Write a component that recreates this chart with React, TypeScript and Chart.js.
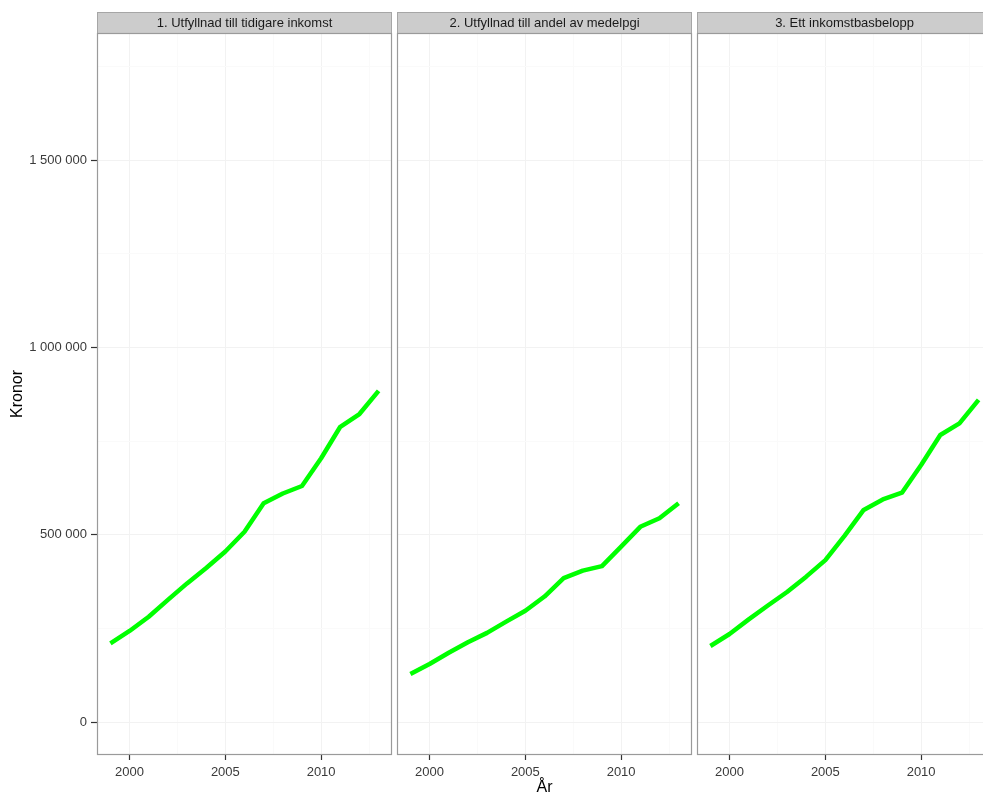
import React, { useEffect, useRef } from "react";
import { Chart, registerables } from "chart.js";

Chart.register(...registerables);

const years = [1999, 2000, 2001, 2002, 2003, 2004, 2005, 2006, 2007, 2008, 2009, 2010, 2011, 2012, 2013];

const panelTitles = [
  "1. Utfyllnad till tidigare inkomst",
  "2. Utfyllnad till andel av medelpgi",
  "3. Ett inkomstbasbelopp",
];

const seriesTidigare = [210000, 243000, 281000, 326000, 370000, 411000, 455000, 508000, 584000, 610000, 630000, 704000, 788000, 822000, 884000];
const seriesMedelpgi = [128000, 155000, 185000, 213000, 238000, 268000, 297000, 335000, 384000, 404000, 416000, 468000, 521000, 544000, 584000];
const seriesBasbelopp = [203000, 235000, 274000, 311000, 347000, 388000, 432000, 497000, 566000, 594000, 612000, 686000, 766000, 797000, 860000];

const yTicks = [0, 250000, 500000, 750000, 1000000, 1250000, 1500000, 1750000];
const xTicks = [2000, 2002.5, 2005, 2007.5, 2010, 2012.5];

const allSeries = [seriesTidigare, seriesMedelpgi, seriesBasbelopp];

const FONT = "'Liberation Sans', Arial, sans-serif";

function fmt(v: number): string {
  return String(Math.round(v)).replace(/\B(?=(\d{3})+(?!\d))/g, " ");
}

const panelPlugin = {
  id: "panelDeco",
  beforeDraw(chart: any) {
    const { ctx, chartArea } = chart;
    ctx.save();
    ctx.fillStyle = "#ffffff";
    ctx.fillRect(chartArea.left, chartArea.top, chartArea.right - chartArea.left, chartArea.bottom - chartArea.top);
    ctx.restore();
  },
  afterDraw(chart: any, _args: any, opts: any) {
    const { ctx, chartArea } = chart;
    const l = chartArea.left, r = chartArea.right, t = chartArea.top, b = chartArea.bottom;
    ctx.save();
    const sTop = t - 21;
    ctx.fillStyle = "#cccccc";
    ctx.fillRect(l, sTop, r - l, t - sTop);
    ctx.strokeStyle = "#a6a6a6";
    ctx.lineWidth = 1;
    ctx.strokeRect(l + 0.5, sTop + 0.5, r - l - 1, t - sTop);
    ctx.fillStyle = "#1a1a1a";
    ctx.font = `13px ${FONT}`;
    ctx.textAlign = "center";
    ctx.textBaseline = "middle";
    ctx.fillText(opts.title, (l + r) / 2, (sTop + t) / 2 + 1);
    ctx.strokeStyle = "#9a9a9a";
    ctx.lineWidth = 1.2;
    ctx.strokeRect(l + 0.5, t + 0.5, r - l - 1, b - t - 1);
    ctx.restore();
  },
};

function makeConfig(idx: number): any {
  const first = idx === 0;
  const middle = idx === 1;
  return {
    type: "line",
    data: {
      labels: years,
      datasets: [
        {
          data: years.map((y, i) => ({ x: y, y: allSeries[idx][i] })),
          borderColor: "#00ff00",
          backgroundColor: "#00ff00",
          borderWidth: 4.5,
          borderJoinStyle: "round",
          pointRadius: 0,
          tension: 0,
          fill: false,
        },
      ],
    },
    plugins: [panelPlugin],
    options: {
      animation: false,
      responsive: false,
      maintainAspectRatio: false,
      events: [],
      layout: { padding: { top: 33, left: first ? 0 : 2, right: 3, bottom: 0 } },
      plugins: {
        legend: { display: false },
        tooltip: { enabled: false },
        title: { display: false },
        panelDeco: { title: panelTitles[idx] },
      },
      scales: {
        x: {
          type: "linear",
          min: 1998.3,
          max: 2013.7,
          afterBuildTicks: (scale: any) => {
            scale.ticks = xTicks.map((v) => ({ value: v }));
          },
          afterFit: (scale: any) => {
            scale.height = 41;
          },
          border: { display: false },
          grid: {
            color: (ctx: any) => (ctx.tick && ctx.tick.value % 5 === 0 ? "#f2f2f2" : "#fafafa"),
            tickColor: (ctx: any) => (ctx.tick && ctx.tick.value % 5 === 0 ? "#333333" : "rgba(0,0,0,0)"),
            tickLength: 5,
            tickWidth: 1.2,
            lineWidth: 1,
          },
          ticks: {
            autoSkip: false,
            maxRotation: 0,
            padding: 5,
            color: "#3a3a3a",
            font: { family: FONT, size: 13 },
            callback: (v: any) => (Number(v) % 5 === 0 ? String(v) : ""),
          },
          title: {
            display: middle,
            text: "År",
            color: "#000000",
            font: { family: FONT, size: 16, lineHeight: 1.0 },
            padding: { top: 0, bottom: 0 },
          },
        },
        y: {
          type: "linear",
          min: -88000,
          max: 1839000,
          afterBuildTicks: (scale: any) => {
            scale.ticks = yTicks.map((v) => ({ value: v }));
          },
          afterFit: (scale: any) => {
            scale.width = first ? 97 : 0;
          },
          border: { display: false },
          grid: {
            color: (ctx: any) => (ctx.tick && ctx.tick.value % 500000 === 0 ? "#f2f2f2" : "#fafafa"),
            tickColor: (ctx: any) =>
              first && ctx.tick && ctx.tick.value % 500000 === 0 ? "#333333" : "rgba(0,0,0,0)",
            tickLength: first ? 6 : 0,
            drawTicks: first,
            tickWidth: 1.2,
            lineWidth: 1,
          },
          ticks: {
            display: first,
            autoSkip: false,
            padding: 4,
            color: "#3a3a3a",
            font: { family: FONT, size: 13 },
            callback: (v: any) => (Number(v) % 500000 === 0 ? fmt(Number(v)) : ""),
          },
          title: {
            display: first,
            text: "Kronor",
            color: "#000000",
            font: { family: FONT, size: 16 },
            padding: { top: 8, bottom: 0 },
          },
        },
      },
    },
  };
}

function Panel({ idx, left, width }: { idx: number; left: number; width: number }) {
  const ref = useRef<HTMLCanvasElement | null>(null);
  useEffect(() => {
    if (!ref.current) return;
    const chart = new Chart(ref.current, makeConfig(idx));
    return () => chart.destroy();
  }, [idx]);
  return (
    <canvas
      ref={ref}
      width={width}
      height={796}
      style={{ position: "absolute", left, top: 0, width, height: 796 }}
    />
  );
}

export default function App() {
  useEffect(() => {
    document.body.style.margin = "0";
    document.body.style.overflow = "hidden";
  }, []);
  return (
    <div
      style={{
        position: "relative",
        width: 983,
        height: 796,
        overflow: "hidden",
        background: "#ffffff",
      }}
    >
      <Panel idx={0} left={0} width={395} />
      <Panel idx={1} left={395} width={300} />
      <Panel idx={2} left={695} width={300} />
    </div>
  );
}
